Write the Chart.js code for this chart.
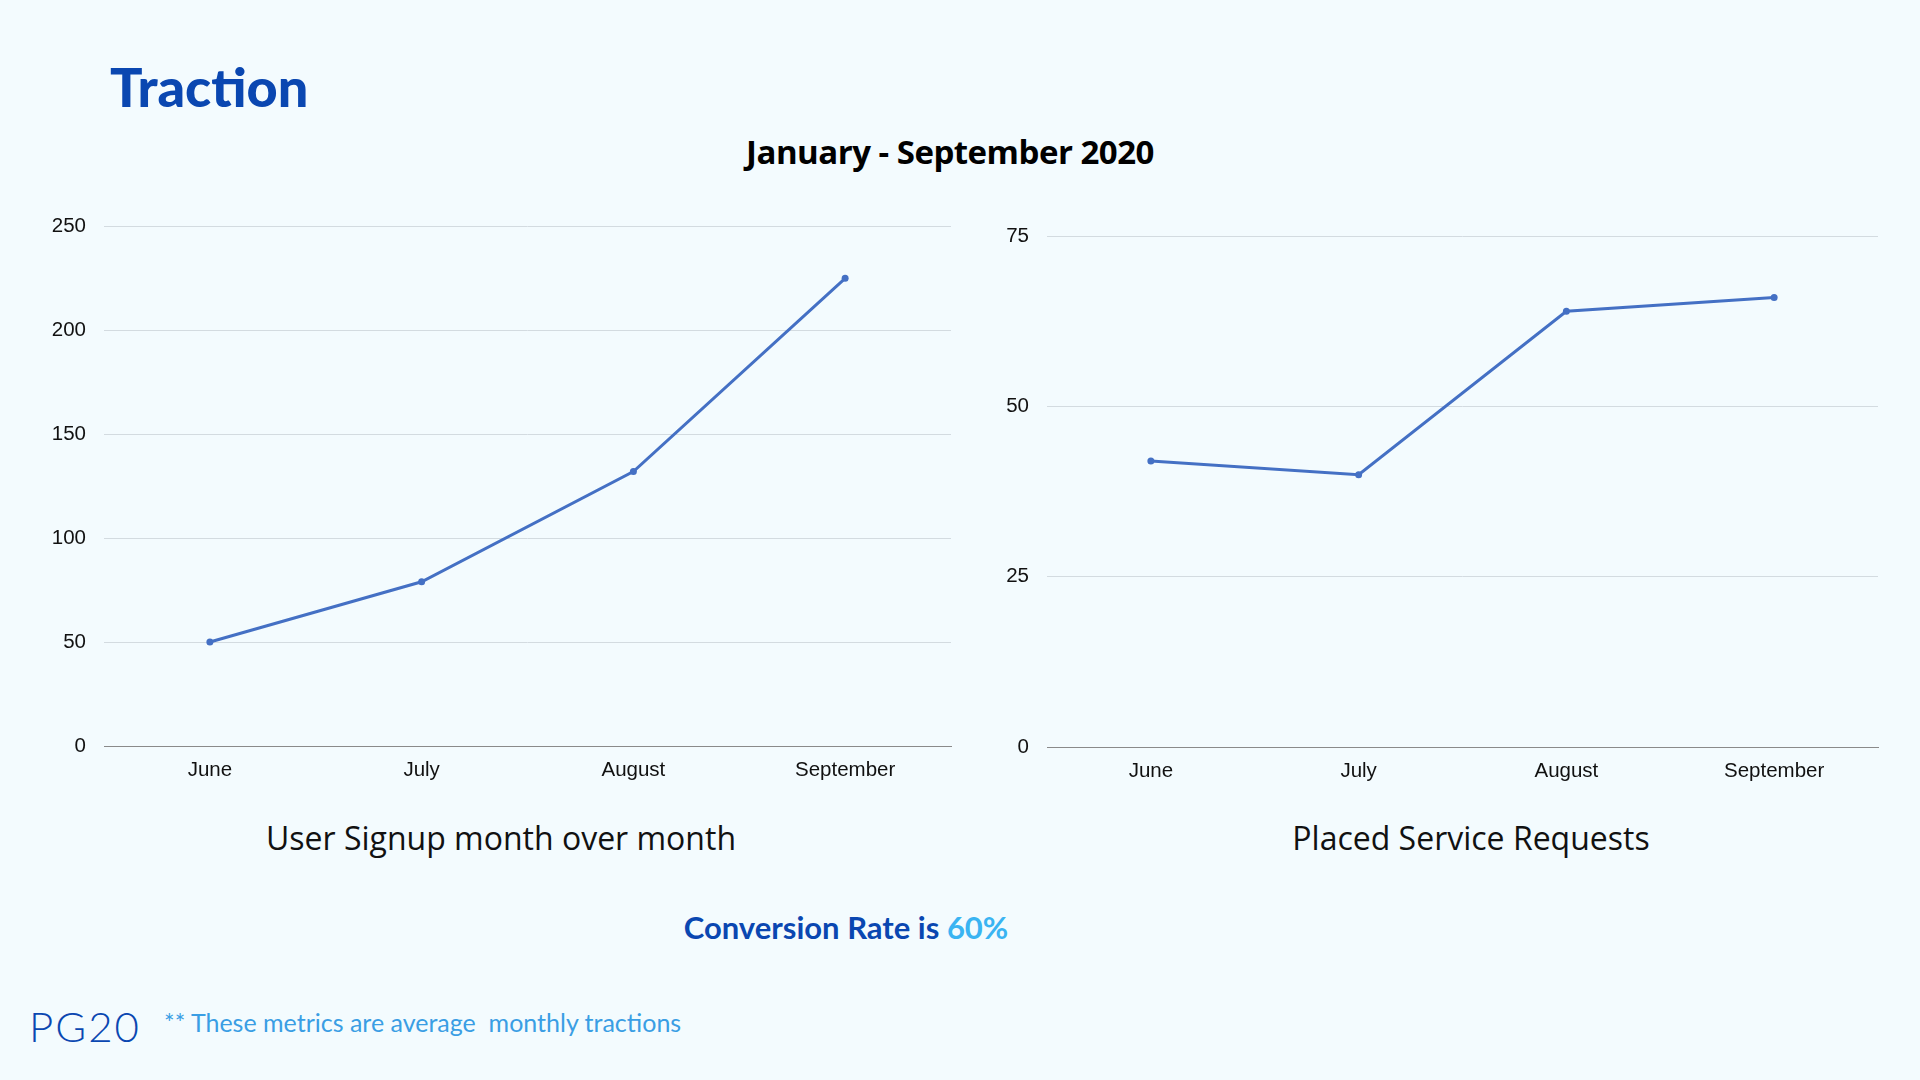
<!DOCTYPE html>
<html>
<head>
<meta charset="utf-8">
<script src="https://cdn.jsdelivr.net/npm/chart.js@4"></script>
<style>
  html, body { margin: 0; padding: 0; }
  body { width: 1920px; height: 1080px; background: #f3fbfe; position: relative; overflow: hidden; font-family: "Open Sans", sans-serif; }
  .abs { position: absolute; white-space: nowrap; font-variant-ligatures: none; font-feature-settings: "liga" 0, "clig" 0, "dlig" 0, "calt" 0; }
  #heading { left: 110px; top: 60px; font: 900 54px Lato, sans-serif; color: #0a47b1; line-height: 1; }
  #period { left: 0; width: 1900px; top: 135px; text-align: center; font: 700 33px "Open Sans", sans-serif; letter-spacing: -0.5px; color: #000; line-height: 1; }
  .caption { top: 822px; font: 400 32px "Open Sans", sans-serif; color: #111; line-height: 1; transform: translateX(-50%); }
  #conv { left: 846px; top: 912px; transform: translateX(-50%); font: 700 31px Lato, sans-serif; color: #0a47b1; line-height: 1; }
  #conv span { color: #3ab4f2; }
  #brand { left: 29px; top: 1005px; font: 300 42px Lato, sans-serif; letter-spacing: 2px; color: #0a47b1; line-height: 1; }
  #note { left: 164px; top: 1010px; font: 400 25px Lato, sans-serif; color: #3a9ee4; line-height: 1; }
  .box { position: absolute; }
</style>
</head>
<body>
<div class="abs" id="heading">Trac&zwnj;tion</div>
<div class="abs" id="period">January - September 2020</div>

<div class="box" style="left:0px; top:196px; width:955px; height:590px;"><canvas id="signups"></canvas></div>
<div class="box" style="left:943px; top:206px; width:939px; height:581px;"><canvas id="requests"></canvas></div>

<div class="abs caption" style="left:501px;">User Signup month over month</div>
<div class="abs caption" style="left:1471px;">Placed Service Requests</div>

<div class="abs" id="conv">Conversion Rate is <span>60%</span></div>
<div class="abs" id="brand">PG20</div>
<div class="abs" id="note">** These metrics are average&nbsp; monthly trac&zwnj;tions</div>

<script>
const months = ['June', 'July', 'August', 'September'];
const signups = [50, 79, 132, 225];
const requests = [42, 40, 64, 66];

const lineColor = '#4470c4';

const makeChart = (id, values, max, step) => {
	return new Chart(document.getElementById(id), {
		type: 'line',
		data: {
			labels: months,
			datasets: [
				{
					data: values,
					borderColor: lineColor,
					backgroundColor: lineColor,
					borderWidth: 3,
					pointRadius: 3.5,
					pointBorderWidth: 0,
					tension: 0,
				},
			]
		},
		options: {
			responsive: true,
			maintainAspectRatio: false,
			animation: false,
			layout: { padding: { top: 20, left: 0, right: 0, bottom: 0 } },
			plugins: { legend: { display: false }, tooltip: { enabled: false } },
			scales: {
				x: {
					offset: true,
					grid: { display: false, drawTicks: false },
					border: { display: true, color: '#8a8a8a', width: 1 },
					ticks: { color: '#111', padding: 12, font: { family: 'Liberation Sans', size: 20.5 } },
					afterFit: s => { s.height = 40; },
				},
				y: {
					min: 0,
					max: max,
					ticks: { stepSize: step, color: '#111', padding: 18, font: { family: 'Liberation Sans', size: 20.5 } },
					grid: { color: '#d3dbe0', lineWidth: 1, drawTicks: false },
					border: { display: false },
					afterFit: s => { s.width = 104; },
				}
			}
		}
	});
};

makeChart('signups', signups, 250, 50);
makeChart('requests', requests, 75, 25);
</script>
</body>
</html>
